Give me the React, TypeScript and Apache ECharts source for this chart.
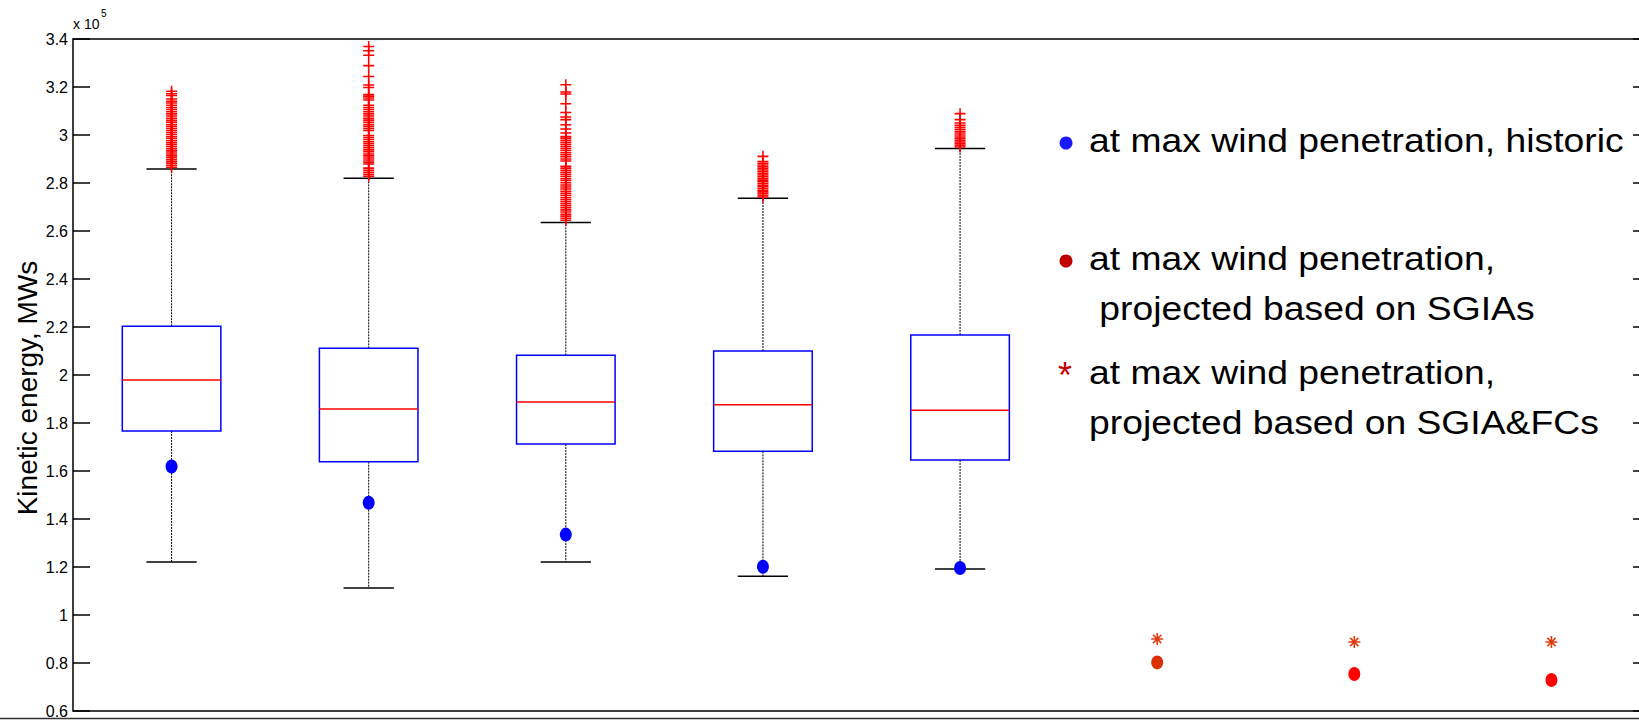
import React, { useEffect, useRef } from "react";
import * as echarts from "echarts";

// Box statistics, kinetic energy in units of 10^5 MWs
const boxPositions = [1, 2, 3, 4, 5];
const whiskerLow = [1.221, 1.113, 1.221, 1.161, 1.192];
const quartile1 = [1.767, 1.639, 1.712, 1.682, 1.646];
const medians = [1.979, 1.858, 1.888, 1.876, 1.853];
const quartile3 = [2.203, 2.111, 2.082, 2.1, 2.167];
const whiskerHigh = [2.858, 2.82, 2.635, 2.736, 2.944];

// Outliers above the upper whisker, one list per box
const outliersBox1 = [
  2.866, 2.874, 2.882, 2.889, 2.897, 2.905, 2.913, 2.921, 2.929, 2.936, 2.944, 2.952, 2.96, 2.968,
  2.976, 2.985, 2.993, 3.002, 3.01, 3.019, 3.027, 3.036, 3.044, 3.053, 3.061, 3.07, 3.079, 3.088,
  3.097, 3.106, 3.115, 3.124, 3.133, 3.141, 3.15, 3.165, 3.172, 3.182,
];
const outliersBox2 = [
  2.828, 2.836, 2.845, 2.853, 2.862, 2.879, 2.887, 2.896, 2.904, 2.913, 2.921, 2.93, 2.938, 2.947,
  2.955, 2.964, 2.972, 2.981, 2.99, 2.998, 3.019, 3.027, 3.036, 3.044, 3.053, 3.062, 3.07, 3.079,
  3.088, 3.097, 3.106, 3.115, 3.124, 3.146, 3.154, 3.162, 3.169, 3.198, 3.208, 3.244, 3.289, 3.332,
  3.351, 3.369,
];
const outliersBox3 = [
  2.645, 2.653, 2.662, 2.67, 2.679, 2.688, 2.697, 2.705, 2.714, 2.723, 2.731, 2.74, 2.749, 2.757,
  2.766, 2.775, 2.783, 2.792, 2.801, 2.81, 2.818, 2.827, 2.836, 2.845, 2.853, 2.862, 2.87, 2.892,
  2.9, 2.909, 2.918, 2.926, 2.935, 2.944, 2.952, 2.961, 2.97, 2.978, 2.987, 2.994, 3.008, 3.025,
  3.043, 3.064, 3.075, 3.094, 3.13, 3.171, 3.179, 3.209,
];
const outliersBox4 = [
  2.742, 2.749, 2.756, 2.763, 2.77, 2.777, 2.784, 2.791, 2.798, 2.805, 2.812, 2.819, 2.826, 2.833,
  2.84, 2.847, 2.854, 2.861, 2.868, 2.875, 2.882, 2.89, 2.911,
];
const outliersBox5 = [
  2.95, 2.957, 2.964, 2.971, 2.978, 2.985, 2.992, 3.0, 3.008, 3.016, 3.024, 3.032, 3.041, 3.05,
  3.064, 3.089,
];
const outlierLists = [outliersBox1, outliersBox2, outliersBox3, outliersBox4, outliersBox5];

// Kinetic energy at the hour of maximum wind penetration
const historicMaxWind = [1.619, 1.468, 1.335, 1.201, 1.196];
const projectedPositions = [6, 7, 8];
const projectedSGIA = [0.8025, 0.754, 0.729];
const projectedSGIAColors = ["#d83000", "#ff0000", "#ff0000"];
const projectedSGIAFC = [0.9, 0.8875, 0.8875];

// Axis ranges
const yMin = 0.6;
const yMax = 3.4;
const yStep = 0.2;
const xMin = 0.5;
const xMax = 8.5;

const legendLines = [
  "at max wind penetration, historic",
  "at max wind penetration,",
  " projected based on SGIAs",
  "at max wind penetration,",
  "projected based on SGIA&FCs",
];

const FONT = "'Liberation Sans', Arial, Helvetica, sans-serif";

const plusPath = "path://M0,4.3H10V5.7H0Z M4.3,0H5.7V10H4.3Z";
const starPath =
  "path://M0,4.35H10V5.65H0Z M4.35,0H5.65V10H4.35Z M1.1,2.0L2.0,1.1L8.9,8.0L8.0,8.9Z M8.0,1.1L8.9,2.0L2.0,8.9L1.1,8.0Z";
const ellipsePath = "path://M0,10A10,10 0 1,0 20,10A10,10 0 1,0 0,10Z";

export default function App() {
  const ref = useRef<HTMLDivElement>(null);

  useEffect(() => {
    if (!ref.current) return;
    const chart = echarts.init(ref.current, undefined, { renderer: "svg" });

    const boxRows = boxPositions.map((p, i) => [
      p,
      whiskerLow[i],
      quartile1[i],
      medians[i],
      quartile3[i],
      whiskerHigh[i],
    ]);
    const outlierData: number[][] = [];
    outlierLists.forEach((list, i) => list.forEach((v) => outlierData.push([boxPositions[i], v])));

    const renderBox = (params: any, api: any) => {
      const x = api.value(0);
      const lo = api.coord([x, api.value(1)]);
      const q1 = api.coord([x, api.value(2)]);
      const med = api.coord([x, api.value(3)]);
      const q3 = api.coord([x, api.value(4)]);
      const hi = api.coord([x, api.value(5)]);
      const cx = lo[0];
      const boxW = api.size([0.5, 0])[0];
      const capW = api.size([0.255, 0])[0];
      const dash = { stroke: "#000", lineWidth: 1, lineDash: [2, 1] };
      const solid = { stroke: "#000", lineWidth: 1.5 };
      return {
        type: "group",
        children: [
          { type: "line", shape: { x1: cx, y1: q3[1], x2: cx, y2: hi[1] }, style: dash },
          { type: "line", shape: { x1: cx, y1: q1[1], x2: cx, y2: lo[1] }, style: dash },
          { type: "line", shape: { x1: cx - capW / 2, y1: hi[1], x2: cx + capW / 2, y2: hi[1] }, style: solid },
          { type: "line", shape: { x1: cx - capW / 2, y1: lo[1], x2: cx + capW / 2, y2: lo[1] }, style: solid },
          {
            type: "rect",
            shape: { x: cx - boxW / 2, y: q3[1], width: boxW, height: q1[1] - q3[1] },
            style: { fill: "none", stroke: "#0000ff", lineWidth: 1.5 },
          },
          {
            type: "line",
            shape: { x1: cx - boxW / 2, y1: med[1], x2: cx + boxW / 2, y2: med[1] },
            style: { stroke: "#ff0000", lineWidth: 1.5 },
          },
        ],
      };
    };

    const legendX = 1089;
    const legendY = [140, 258, 308, 372, 422];
    const legendFont = `33px ${FONT}`;

    chart.setOption({
      animation: false,
      grid: {
        left: 73,
        right: 50,
        top: 39,
        bottom: 9,
        show: true,
        borderColor: "#000",
        borderWidth: 1.5,
        backgroundColor: "#fff",
      },
      xAxis: {
        type: "value",
        min: xMin,
        max: xMax,
        axisLine: { show: false },
        axisTick: { show: false },
        axisLabel: { show: false },
        splitLine: { show: false },
      },
      yAxis: [
        {
          type: "value",
          min: yMin,
          max: yMax,
          interval: yStep,
          axisLine: { show: false },
          axisTick: { show: true, inside: true, length: 17, lineStyle: { color: "#000", width: 1.5 } },
          axisLabel: {
            color: "#000",
            fontSize: 16,
            fontFamily: FONT,
            margin: 5,
            formatter: (v: number) => String(parseFloat(v.toFixed(1))),
          },
          splitLine: { show: false },
        },
        {
          type: "value",
          position: "right",
          min: yMin,
          max: yMax,
          interval: yStep,
          axisLine: { show: false },
          axisTick: { show: true, inside: true, length: 17, lineStyle: { color: "#000", width: 1.5 } },
          axisLabel: { show: false },
          splitLine: { show: false },
        },
      ],
      series: [
        {
          type: "custom",
          name: "boxes",
          renderItem: renderBox,
          data: boxRows,
          encode: { x: 0, y: [1, 2, 3, 4, 5] },
          z: 2,
        },
        {
          type: "scatter",
          name: "outliers",
          data: outlierData,
          symbol: plusPath,
          symbolSize: [11, 11],
          itemStyle: { color: "#ff0000", opacity: 1 },
          z: 3,
        },
        {
          type: "scatter",
          name: "historic",
          data: boxPositions.map((p, i) => [p, historicMaxWind[i]]),
          symbol: ellipsePath,
          symbolSize: [12, 14],
          itemStyle: { color: "#0000ff", opacity: 1 },
          z: 4,
        },
        {
          type: "scatter",
          name: "projected SGIAs",
          data: projectedPositions.map((p, i) => ({
            value: [p, projectedSGIA[i]],
            itemStyle: { color: projectedSGIAColors[i], opacity: 1 },
          })),
          symbol: ellipsePath,
          symbolSize: [12, 14],
          itemStyle: { opacity: 1 },
          z: 4,
        },
        {
          type: "scatter",
          name: "projected SGIA&FCs",
          data: projectedPositions.map((p, i) => [p, projectedSGIAFC[i]]),
          symbol: starPath,
          symbolSize: [12, 12],
          itemStyle: { color: "#e23a10", opacity: 1 },
          z: 4,
        },
      ],
      graphic: [
        {
          type: "text",
          x: 73,
          y: 24,
          style: { text: "x 10", font: `14px ${FONT}`, fill: "#000", verticalAlign: "middle" },
        },
        {
          type: "text",
          x: 101,
          y: 13.5,
          style: { text: "5", font: `10px ${FONT}`, fill: "#000", verticalAlign: "middle" },
        },
        {
          type: "text",
          x: 27,
          y: 388,
          rotation: Math.PI / 2,
          style: {
            text: "Kinetic energy, MWs",
            font: `28px ${FONT}`,
            fill: "#000",
            align: "center",
            verticalAlign: "middle",
          },
        },
        {
          type: "line",
          shape: { x1: 0, y1: 718.5, x2: 1700, y2: 718.5 },
          style: { stroke: "#333", lineWidth: 1.5 },
        },
        { type: "circle", shape: { cx: 1066, cy: legendY[0] + 3, r: 6.5 }, style: { fill: "#1a1aff" } },
        { type: "circle", shape: { cx: 1066, cy: legendY[1] + 3, r: 6.5 }, style: { fill: "#c00000" } },
        {
          type: "text",
          x: 1065,
          y: legendY[3] + 3,
          style: { text: "*", font: `36px ${FONT}`, fill: "#cc0000", align: "center", verticalAlign: "middle" },
        },
        ...legendLines.map((t, i) => ({
          type: "text",
          x: legendX,
          y: legendY[i],
          scaleX: 1.13,
          style: { text: t, font: legendFont, fill: "#000", verticalAlign: "middle" },
        })),
      ],
    });

    return () => chart.dispose();
  }, []);

  return (
    <div
      style={{
        position: "fixed",
        left: 0,
        top: 0,
        width: "1639px",
        height: "720px",
        overflow: "hidden",
        background: "#fff",
      }}
    >
      <div ref={ref} style={{ width: "1700px", height: "720px" }} />
    </div>
  );
}
